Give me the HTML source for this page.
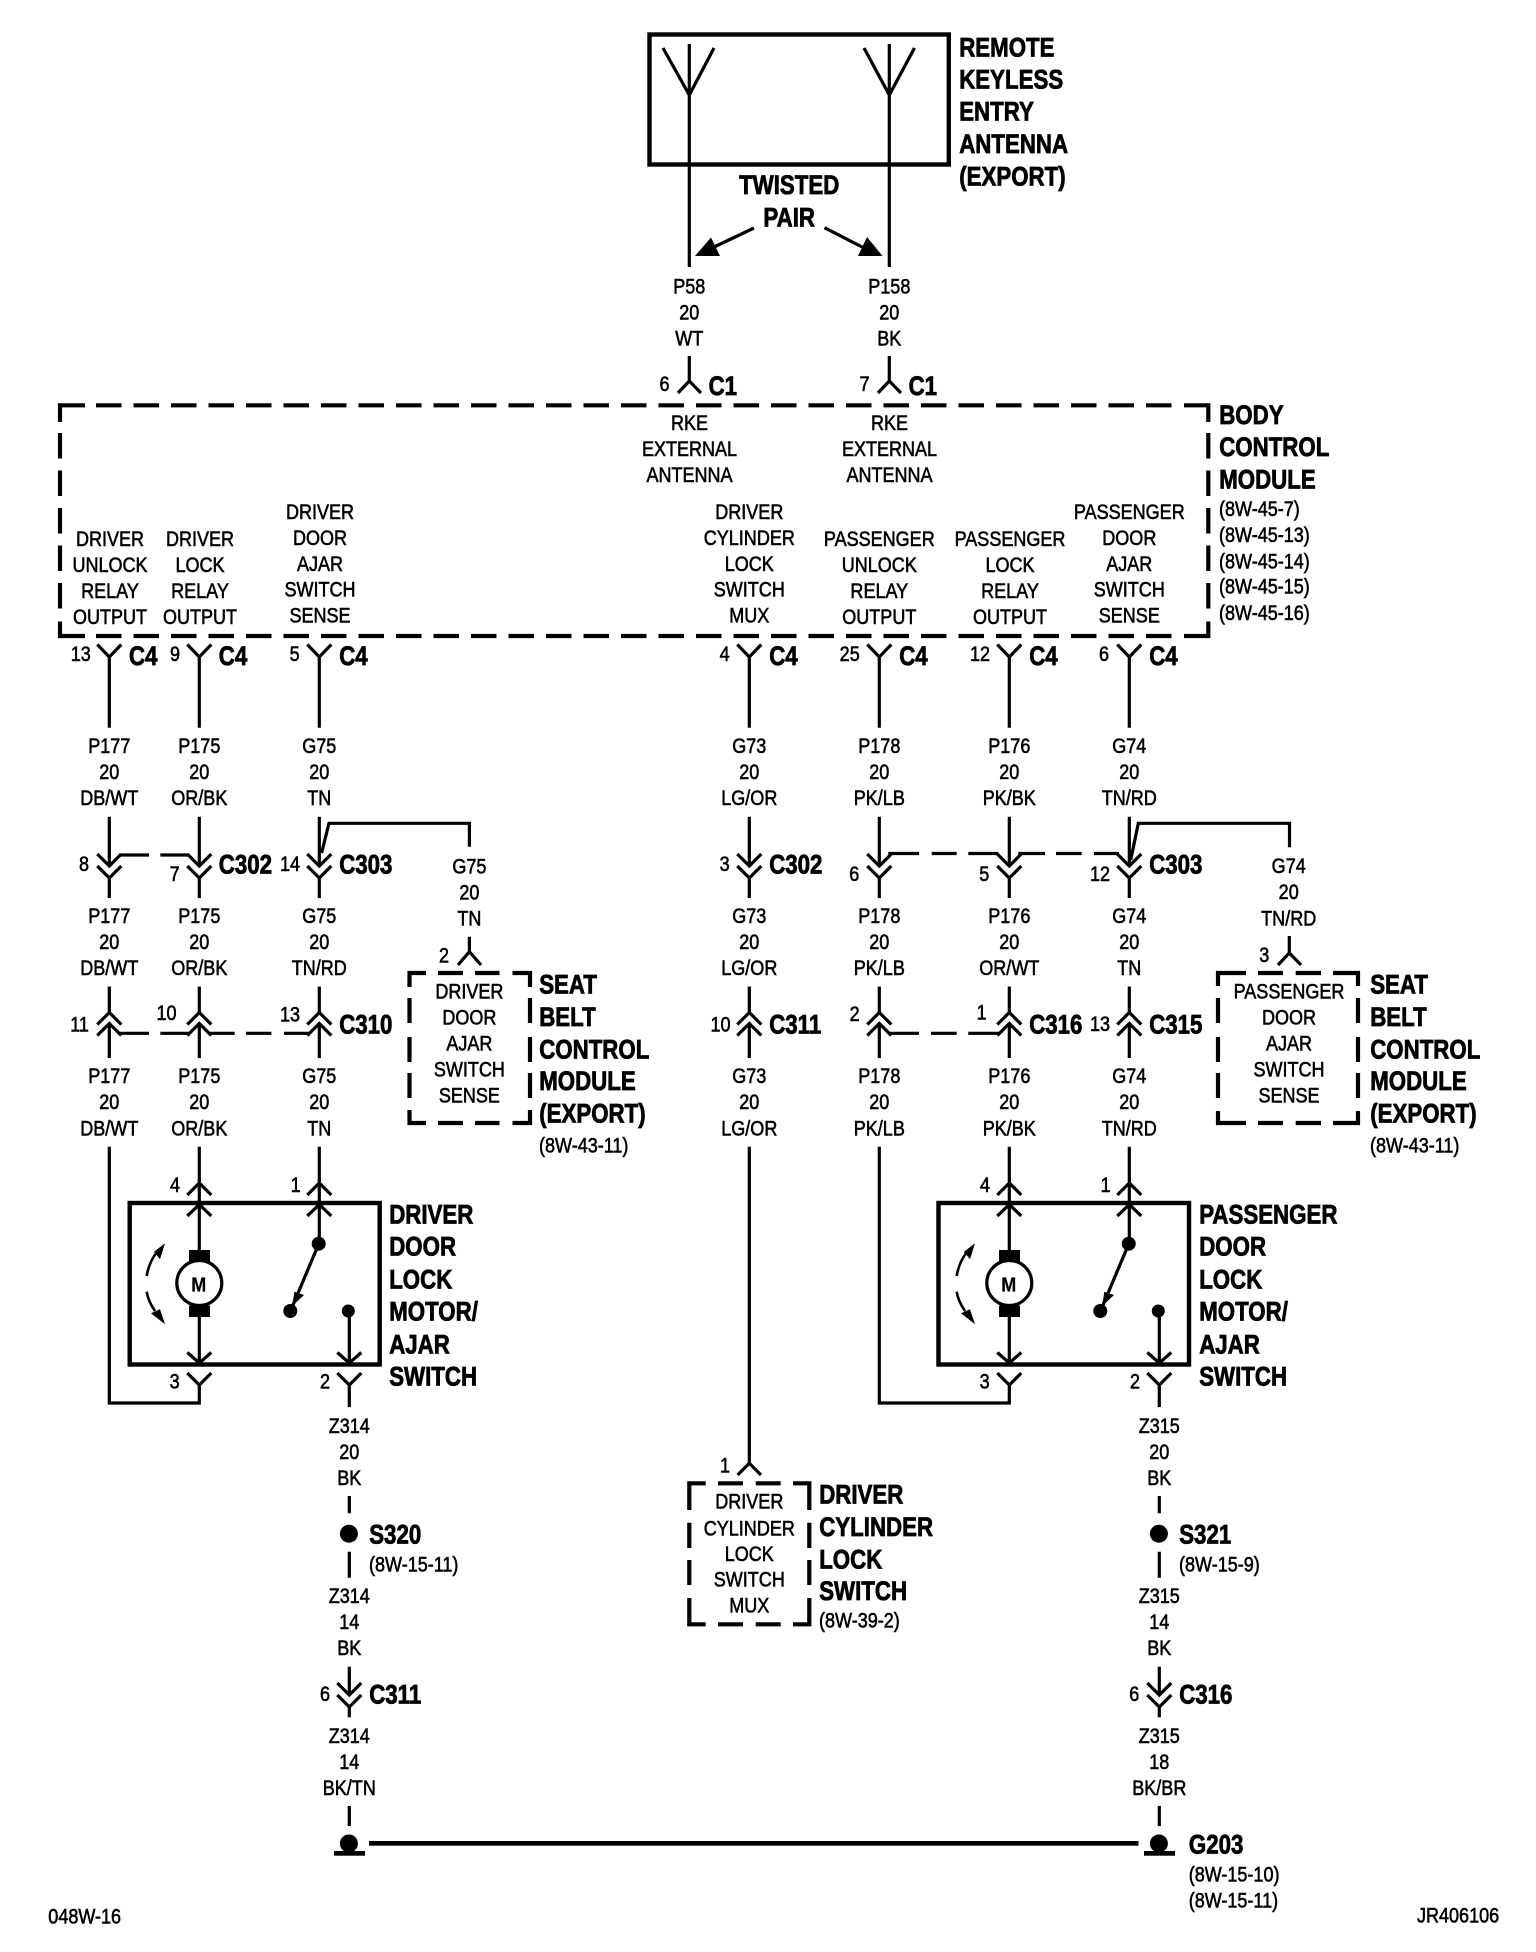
<!DOCTYPE html>
<html><head><meta charset="utf-8"><style>
html,body{margin:0;padding:0;background:#fff}
svg{display:block}
text{font-family:"Liberation Sans",Arial,sans-serif;fill:#000}
.r text{font-size:21.6px;text-anchor:middle;stroke:#000;stroke-width:.6}
.b text{font-size:27px;font-weight:bold;stroke:#000;stroke-width:.8}
.l text{font-size:21.6px;stroke:#000;stroke-width:.6}
.w{fill:none;stroke:#000;stroke-width:3.2}
.d{fill:none;stroke:#000;stroke-width:4.2}
</style></head><body>
<svg xmlns="http://www.w3.org/2000/svg" width="1536" height="1952" viewBox="0 0 1536 1952">
<rect width="1536" height="1952" fill="#fff"/>
<defs>
<path id="col" class="w" d="M-12 644.5L0 657L12 644.5M0 657V727.7M0 816.7V866M-12 854L0 866L12 854M-12 866L0 878L12 866M0 878V898M0 986.5V1013M-12 1024.5L0 1012.5L12 1024.5M-12 1035.5L0 1023.5L12 1035.5M0 1023.5V1058"/>
<g id="mod">
<path class="w" d="M199.3 1146.7V1250M187.3 1195L199.3 1183L211.3 1195M187.3 1216L199.3 1204.5L211.3 1216M319.3 1146.7V1243M307.3 1195L319.3 1183L331.3 1195M307.3 1216L319.3 1204.5L331.3 1216M199.3 1316V1363M187.3 1352.5L199.3 1363L211.3 1352.5M187.3 1373L199.3 1385L211.3 1373M349.3 1311V1363M337.3 1352.5L349.3 1363L361.3 1352.5M337.3 1373L349.3 1385L361.3 1373M349.3 1385V1407M318.7 1244L293 1305"/>
<circle cx="199.3" cy="1283" r="22.5" fill="#fff" stroke="#000" stroke-width="3.2"/>
<rect x="189" y="1250" width="21" height="12"/>
<rect x="189" y="1305.5" width="21" height="11.5"/>
<circle cx="318.7" cy="1243.7" r="7"/>
<circle cx="290.3" cy="1311" r="7"/>
<circle cx="348.3" cy="1311" r="6.5"/>
<path d="M292.3 1306L294.3 1291.7L304 1295Z"/>
<path d="M146.7 1276Q149 1262 157 1252M146.7 1291.7Q148 1301 155 1311" fill="none" stroke="#000" stroke-width="2.6"/>
<path d="M165 1243.3L154 1251.7L160 1259.3ZM165 1324.3L151 1313.3L160 1309.3Z"/>
</g>
<g id="zc">
<path class="w" d="M0 1496V1513.3M0 1551.7V1577.7M0 1666.7V1695M-12 1683L0 1695L12 1683M-12 1695L0 1707L12 1695M0 1707V1717.3M0 1806V1826"/>
<circle cx="-.4" cy="1533.7" r="9"/>
<circle cx="-.4" cy="1843.5" r="9"/>
<rect x="-15.3" y="1851" width="31" height="4.7"/>
</g>
</defs>

<!-- antenna -->
<rect x="649.5" y="34.5" width="299.3" height="130" fill="none" stroke="#000" stroke-width="4.4"/>
<path class="w" d="M689.3 44V267M663 48L689.3 95L714 48M889.3 44V267M864 48L889.3 95L914.5 48M754 228L712 248M824.5 227.7L866 249M689.3 356V381M678 393L689.3 381L701 393M889.3 356V381M878 393L889.3 381L901 393"/>
<path d="M695 256L711 237.5L720 256ZM882.5 256L867 237L858 256Z"/>

<!-- BCM dashed -->
<path class="d" d="M60 422V405.3H85M1184 405.3H1208.3V422M60 621.5V636H85M1184 636H1208.3V621.5"/>
<path class="d" stroke-dasharray="25.5 12" d="M96 405.3H1172M96 636H1172M60 433V610M1208.3 433V610"/>

<!-- seat boxes -->
<path class="d" d="M409.5 987V973H426M438 973H463M475 973H499.5M512.5 973H530V987M409.5 998V1023M530 998V1023M409.5 1037V1062M530 1037V1062M409.5 1073V1098M530 1073V1098M409.5 1110V1123H426M438 1123H463M475 1123H499.5M512.5 1123H530V1110"/>
<path class="d" d="M1218 986V973H1246M1258 973H1283M1295.7 973H1321M1333 973H1358V986M1218 998V1023M1358 998V1023M1218 1037V1062M1358 1037V1062M1218 1073V1098M1358 1073V1098M1218 1111V1123H1246M1258 1123H1283M1295.7 1123H1321M1333 1123H1358V1111"/>
<path class="d" d="M689.3 1510V1483.3H705.7M718 1483.3H743M755.7 1483.3H780.7M793 1483.3H809.3V1510M689.3 1522.7V1548M809.3 1522.7V1548M689.3 1560V1585M809.3 1560V1585M689.3 1598V1624.3H705.7M718 1624.3H743M755.7 1624.3H780.7M793 1624.3H809.3V1598"/>

<!-- column connectors -->
<use href="#col" x="109.3"/><use href="#col" x="199.3"/><use href="#col" x="319.3"/><use href="#col" x="749.3"/><use href="#col" x="879.3"/><use href="#col" x="1009.3"/><use href="#col" x="1129.3"/>

<!-- jumpers and branches -->
<path class="w" d="M119.6 855H149M160.4 855H188M888.3 853.5H919M931.7 853.5H956.7M968.3 853.5H998.3M1018.3 853.5H1045M1056 853.5H1081.7M1094 853.5H1119M119.6 1033.3H149M160.4 1033.3H189M209.4 1033.3H234.7M246 1033.3H271.4M284 1033.3H309.4M890 1033.3H919M931 1033.3H956.7M968.3 1033.3H999.3"/>
<path class="w" d="M321.6 853L329 823.3H469.4V846.7M1130.7 860L1138.3 823.3H1289.5V847.3M469.4 936.7V951.7M458 965L469.4 951.7L481 965M1289.3 936V953M1278 965L1289.3 953L1301 965"/>

<!-- modules -->
<rect x="129.7" y="1203" width="250" height="161.5" fill="none" stroke="#000" stroke-width="4.4"/>
<rect x="938.5" y="1203" width="250.5" height="161.5" fill="none" stroke="#000" stroke-width="4.4"/>
<use href="#mod"/><use href="#mod" x="810"/>
<path class="w" d="M109.3 1146.7V1403H199.3V1385M879.3 1146.7V1403H1009.3V1385M749.3 1146.7V1463.3M737.6 1475L749.3 1463.3L761 1475"/>
<use href="#zc" x="349.3"/><use href="#zc" x="1159.3"/>
<rect x="369" y="1841" width="769.5" height="4.7"/>

<!-- regular centered text -->
<g class="r" transform="translate(0 -.7)">
<g transform="translate(689.3 294) scale(.835 1)"><text>P58</text><text y="26.2">20</text><text y="52.4">WT</text></g>
<g transform="translate(889.3 294) scale(.835 1)"><text>P158</text><text y="26.2">20</text><text y="52.4">BK</text></g>
<g transform="translate(689.5 430.7) scale(.835 1)"><text>RKE</text><text y="26">EXTERNAL</text><text y="52">ANTENNA</text></g>
<g transform="translate(889.5 430.7) scale(.835 1)"><text>RKE</text><text y="26">EXTERNAL</text><text y="52">ANTENNA</text></g>
<g transform="translate(110 546.7) scale(.835 1)"><text>DRIVER</text><text y="26">UNLOCK</text><text y="52">RELAY</text><text y="78">OUTPUT</text></g>
<g transform="translate(200 546.7) scale(.835 1)"><text>DRIVER</text><text y="26">LOCK</text><text y="52">RELAY</text><text y="78">OUTPUT</text></g>
<g transform="translate(320 519.5) scale(.835 1)"><text>DRIVER</text><text y="26">DOOR</text><text y="52">AJAR</text><text y="77.5">SWITCH</text><text y="103.5">SENSE</text></g>
<g transform="translate(749.3 519.5) scale(.835 1)"><text>DRIVER</text><text y="26">CYLINDER</text><text y="52">LOCK</text><text y="77.5">SWITCH</text><text y="103.5">MUX</text></g>
<g transform="translate(879.3 546.7) scale(.835 1)"><text>PASSENGER</text><text y="26">UNLOCK</text><text y="52">RELAY</text><text y="78">OUTPUT</text></g>
<g transform="translate(1010 546.7) scale(.835 1)"><text>PASSENGER</text><text y="26">LOCK</text><text y="52">RELAY</text><text y="78">OUTPUT</text></g>
<g transform="translate(1129.3 519.5) scale(.835 1)"><text>PASSENGER</text><text y="26">DOOR</text><text y="52">AJAR</text><text y="77.5">SWITCH</text><text y="103.5">SENSE</text></g>

<g transform="translate(109.3 753.5) scale(.835 1)"><text>P177</text><text y="26.2">20</text><text y="52.4">DB/WT</text></g>
<g transform="translate(199.3 753.5) scale(.835 1)"><text>P175</text><text y="26.2">20</text><text y="52.4">OR/BK</text></g>
<g transform="translate(319.3 753.5) scale(.835 1)"><text>G75</text><text y="26.2">20</text><text y="52.4">TN</text></g>
<g transform="translate(749.3 753.5) scale(.835 1)"><text>G73</text><text y="26.2">20</text><text y="52.4">LG/OR</text></g>
<g transform="translate(879.3 753.5) scale(.835 1)"><text>P178</text><text y="26.2">20</text><text y="52.4">PK/LB</text></g>
<g transform="translate(1009.3 753.5) scale(.835 1)"><text>P176</text><text y="26.2">20</text><text y="52.4">PK/BK</text></g>
<g transform="translate(1129.3 753.5) scale(.835 1)"><text>G74</text><text y="26.2">20</text><text y="52.4">TN/RD</text></g>

<g transform="translate(109.3 923.5) scale(.835 1)"><text>P177</text><text y="26.2">20</text><text y="52.4">DB/WT</text></g>
<g transform="translate(199.3 923.5) scale(.835 1)"><text>P175</text><text y="26.2">20</text><text y="52.4">OR/BK</text></g>
<g transform="translate(319.3 923.5) scale(.835 1)"><text>G75</text><text y="26.2">20</text><text y="52.4">TN/RD</text></g>
<g transform="translate(749.3 923.5) scale(.835 1)"><text>G73</text><text y="26.2">20</text><text y="52.4">LG/OR</text></g>
<g transform="translate(879.3 923.5) scale(.835 1)"><text>P178</text><text y="26.2">20</text><text y="52.4">PK/LB</text></g>
<g transform="translate(1009.3 923.5) scale(.835 1)"><text>P176</text><text y="26.2">20</text><text y="52.4">OR/WT</text></g>
<g transform="translate(1129.3 923.5) scale(.835 1)"><text>G74</text><text y="26.2">20</text><text y="52.4">TN</text></g>

<g transform="translate(109.3 1083.7) scale(.835 1)"><text>P177</text><text y="26.2">20</text><text y="52.4">DB/WT</text></g>
<g transform="translate(199.3 1083.7) scale(.835 1)"><text>P175</text><text y="26.2">20</text><text y="52.4">OR/BK</text></g>
<g transform="translate(319.3 1083.7) scale(.835 1)"><text>G75</text><text y="26.2">20</text><text y="52.4">TN</text></g>
<g transform="translate(749.3 1083.7) scale(.835 1)"><text>G73</text><text y="26.2">20</text><text y="52.4">LG/OR</text></g>
<g transform="translate(879.3 1083.7) scale(.835 1)"><text>P178</text><text y="26.2">20</text><text y="52.4">PK/LB</text></g>
<g transform="translate(1009.3 1083.7) scale(.835 1)"><text>P176</text><text y="26.2">20</text><text y="52.4">PK/BK</text></g>
<g transform="translate(1129.3 1083.7) scale(.835 1)"><text>G74</text><text y="26.2">20</text><text y="52.4">TN/RD</text></g>

<g transform="translate(469.4 874) scale(.835 1)"><text>G75</text><text y="26">20</text><text y="52">TN</text></g>
<g transform="translate(1288.7 873.5) scale(.835 1)"><text>G74</text><text y="26">20</text><text y="52.5">TN/RD</text></g>
<g transform="translate(469.4 999) scale(.835 1)"><text>DRIVER</text><text y="26">DOOR</text><text y="52">AJAR</text><text y="78.3">SWITCH</text><text y="104.3">SENSE</text></g>
<g transform="translate(1289 999) scale(.835 1)"><text>PASSENGER</text><text y="26">DOOR</text><text y="52">AJAR</text><text y="78.3">SWITCH</text><text y="104.3">SENSE</text></g>
<g transform="translate(749.3 1509.3) scale(.835 1)"><text>DRIVER</text><text y="26.7">CYLINDER</text><text y="52.4">LOCK</text><text y="78">SWITCH</text><text y="104">MUX</text></g>

<g transform="translate(349.3 1433.5) scale(.835 1)"><text>Z314</text><text y="26.2">20</text><text y="52.4">BK</text></g>
<g transform="translate(1159.3 1433.5) scale(.835 1)"><text>Z315</text><text y="26.2">20</text><text y="52.4">BK</text></g>
<g transform="translate(349.3 1603.5) scale(.835 1)"><text>Z314</text><text y="26.2">14</text><text y="52.4">BK</text></g>
<g transform="translate(1159.3 1603.5) scale(.835 1)"><text>Z315</text><text y="26.2">14</text><text y="52.4">BK</text></g>
<g transform="translate(349.3 1743.5) scale(.835 1)"><text>Z314</text><text y="26.2">14</text><text y="52.4">BK/TN</text></g>
<g transform="translate(1159.3 1743.5) scale(.835 1)"><text>Z315</text><text y="26.2">18</text><text y="52.4">BK/BR</text></g>

<!-- pin numbers -->
<text transform="translate(664.5 391.7) scale(.835 1)">6</text>
<text transform="translate(864.5 391.7) scale(.835 1)">7</text>
<text transform="translate(80.8 661.7) scale(.835 1)">13</text>
<text transform="translate(175 661.7) scale(.835 1)">9</text>
<text transform="translate(294.7 661.7) scale(.835 1)">5</text>
<text transform="translate(724.7 661.7) scale(.835 1)">4</text>
<text transform="translate(849.7 661.7) scale(.835 1)">25</text>
<text transform="translate(980 661.7) scale(.835 1)">12</text>
<text transform="translate(1104 661.7) scale(.835 1)">6</text>
<text transform="translate(84 871.7) scale(.835 1)">8</text>
<text transform="translate(174.7 881.7) scale(.835 1)">7</text>
<text transform="translate(290 871.7) scale(.835 1)">14</text>
<text transform="translate(724.7 871.7) scale(.835 1)">3</text>
<text transform="translate(854.3 881.7) scale(.835 1)">6</text>
<text transform="translate(984.3 881.7) scale(.835 1)">5</text>
<text transform="translate(1100 881.7) scale(.835 1)">12</text>
<text transform="translate(444 963) scale(.835 1)">2</text>
<text transform="translate(1264.3 962.7) scale(.835 1)">3</text>
<text transform="translate(79.6 1032.3) scale(.835 1)">11</text>
<text transform="translate(166.5 1020.7) scale(.835 1)">10</text>
<text transform="translate(290 1022.3) scale(.835 1)">13</text>
<text transform="translate(720.5 1032) scale(.835 1)">10</text>
<text transform="translate(854.7 1021.7) scale(.835 1)">2</text>
<text transform="translate(981.7 1020) scale(.835 1)">1</text>
<text transform="translate(1100 1031.7) scale(.835 1)">13</text>
<text transform="translate(175 1192.7) scale(.835 1)">4</text>
<text transform="translate(295.7 1192.7) scale(.835 1)">1</text>
<text transform="translate(174.7 1389.3) scale(.835 1)">3</text>
<text transform="translate(325 1389.3) scale(.835 1)">2</text>
<text transform="translate(985 1192.7) scale(.835 1)">4</text>
<text transform="translate(1105.7 1192.7) scale(.835 1)">1</text>
<text transform="translate(984.7 1389.3) scale(.835 1)">3</text>
<text transform="translate(1135 1389.3) scale(.835 1)">2</text>
<text transform="translate(725 1473) scale(.835 1)">1</text>
<text transform="translate(325 1701.7) scale(.835 1)">6</text>
<text transform="translate(1134.3 1701.7) scale(.835 1)">6</text>
</g>

<!-- refs left aligned -->
<g class="l" transform="translate(-1 -.7)">
<g transform="translate(1220 516.7) scale(.835 1)"><text>(8W-45-7)</text><text y="26">(8W-45-13)</text><text y="52.3">(8W-45-14)</text><text y="77.5">(8W-45-15)</text><text y="104">(8W-45-16)</text></g>
<text transform="translate(540 1153) scale(.835 1)">(8W-43-11)</text>
<text transform="translate(1371 1153) scale(.835 1)">(8W-43-11)</text>
<text transform="translate(820 1628.3) scale(.835 1)">(8W-39-2)</text>
<text transform="translate(370 1572.3) scale(.835 1)">(8W-15-11)</text>
<text transform="translate(1180 1572.3) scale(.835 1)">(8W-15-9)</text>
<text transform="translate(1189.7 1882.3) scale(.835 1)">(8W-15-10)</text>
<text transform="translate(1189.7 1908.3) scale(.835 1)">(8W-15-11)</text>
<text transform="translate(1418 1923.3) scale(.835 1)">JR406106</text>
<text transform="translate(49.3 1924) scale(.835 1)">048W-16</text>
</g>

<!-- bold labels -->
<g class="b" transform="translate(-.8 0)">
<g transform="translate(960 56.7) scale(.825 1)"><text>REMOTE</text><text y="32">KEYLESS</text><text y="64">ENTRY</text><text y="96.5">ANTENNA</text><text y="129">(EXPORT)</text></g>
<text transform="translate(790 194) scale(.825 1)" text-anchor="middle">TWISTED</text>
<text transform="translate(790 226.7) scale(.825 1)" text-anchor="middle">PAIR</text>
<text transform="translate(709.4 395) scale(.825 1)">C1</text>
<text transform="translate(909.4 395) scale(.825 1)">C1</text>
<g transform="translate(1220 424) scale(.825 1)"><text>BODY</text><text y="32">CONTROL</text><text y="64.3">MODULE</text></g>
<text transform="translate(129.8 665) scale(.825 1)">C4</text>
<text transform="translate(219.6 665) scale(.825 1)">C4</text>
<text transform="translate(340 665) scale(.825 1)">C4</text>
<text transform="translate(770 665) scale(.825 1)">C4</text>
<text transform="translate(900 665) scale(.825 1)">C4</text>
<text transform="translate(1030 665) scale(.825 1)">C4</text>
<text transform="translate(1150 665) scale(.825 1)">C4</text>
<text transform="translate(219.6 873.3) scale(.825 1)">C302</text>
<text transform="translate(340 873.3) scale(.825 1)">C303</text>
<text transform="translate(770 873.3) scale(.825 1)">C302</text>
<text transform="translate(1150 873.3) scale(.825 1)">C303</text>
<text transform="translate(340 1033.3) scale(.825 1)">C310</text>
<text transform="translate(770 1033.3) scale(.825 1)">C311</text>
<text transform="translate(1030 1033.3) scale(.825 1)">C316</text>
<text transform="translate(1150 1033.3) scale(.825 1)">C315</text>
<g transform="translate(540 993.3) scale(.825 1)"><text>SEAT</text><text y="32.5">BELT</text><text y="65">CONTROL</text><text y="96.7">MODULE</text><text y="129">(EXPORT)</text></g>
<g transform="translate(1371 993.3) scale(.825 1)"><text>SEAT</text><text y="32.5">BELT</text><text y="65">CONTROL</text><text y="96.7">MODULE</text><text y="129">(EXPORT)</text></g>
<g transform="translate(390 1223.3) scale(.825 1)"><text>DRIVER</text><text y="32.4">DOOR</text><text y="65">LOCK</text><text y="97.4">MOTOR/</text><text y="130">AJAR</text><text y="162.4">SWITCH</text></g>
<g transform="translate(1200 1223.3) scale(.825 1)"><text>PASSENGER</text><text y="32.4">DOOR</text><text y="65">LOCK</text><text y="97.4">MOTOR/</text><text y="130">AJAR</text><text y="162.4">SWITCH</text></g>
<text transform="translate(192 1291.7) scale(.9 1)" style="font-size:20px;stroke-width:.2">M</text>
<text transform="translate(1002 1291.7) scale(.9 1)" style="font-size:20px;stroke-width:.2">M</text>
<g transform="translate(820 1503.3) scale(.825 1)"><text>DRIVER</text><text y="32.7">CYLINDER</text><text y="65">LOCK</text><text y="96.7">SWITCH</text></g>
<text transform="translate(370 1543.3) scale(.825 1)">S320</text>
<text transform="translate(1180 1543.3) scale(.825 1)">S321</text>
<text transform="translate(370 1703.3) scale(.825 1)">C311</text>
<text transform="translate(1180 1703.3) scale(.825 1)">C316</text>
<text transform="translate(1189.7 1853.3) scale(.825 1)">G203</text>
</g>
</svg>
</body></html>
